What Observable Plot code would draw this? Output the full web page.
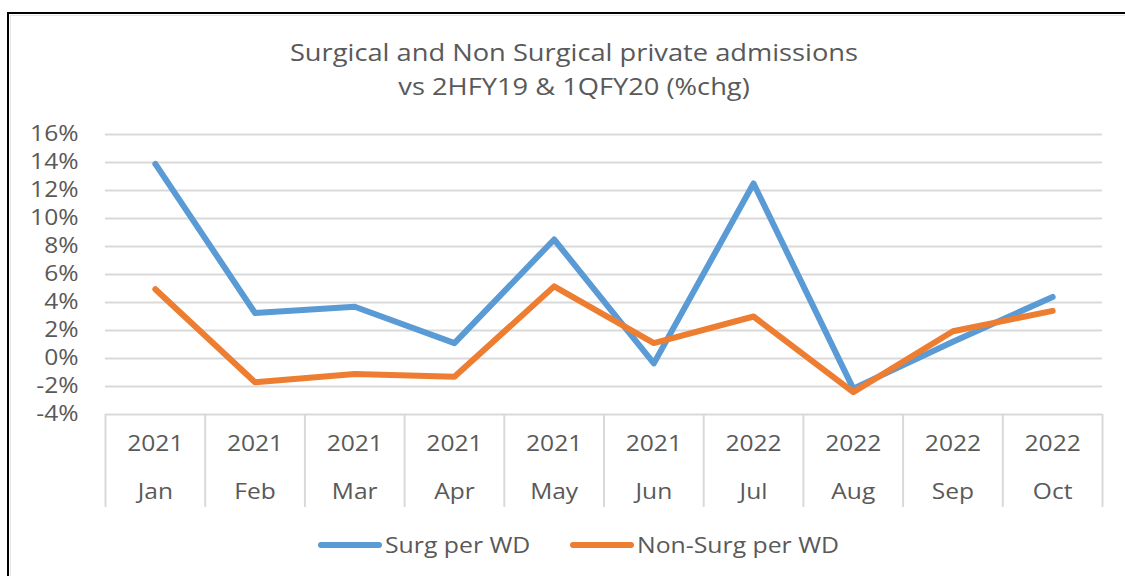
<!DOCTYPE html>
<html>
<head>
<meta charset="utf-8">
<script src="https://cdn.jsdelivr.net/npm/d3@7"></script>
<script src="https://cdn.jsdelivr.net/npm/@observablehq/plot@0.6"></script>
<style>
  html, body { margin: 0; padding: 0; background: #fff; overflow: hidden; }
  #wrap { position: relative; width: 1125px; height: 576px; overflow: hidden; font-family: "Open Sans", sans-serif; }
  #frame { position: absolute; left: 7px; top: 12px; width: 1300px; height: 800px; border-left: 2px solid #000; border-top: 2px solid #000; box-sizing: border-box; }
  #inner { position: absolute; left: 10px; top: 15px; width: 1300px; height: 800px; border-left: 1px solid #e6e6e6; border-top: 1px solid #e6e6e6; box-sizing: border-box; }
  #title { position: absolute; left: 0; top: 35px; width: 1148px; text-align: center; color: #595959; font-size: 23.5px; line-height: 34px; transform: scaleX(1.16); transform-origin: 574px 0; }
  #chart { position: absolute; left: 0; top: 0; }
  #legend { position: absolute; left: 0; top: 530px; width: 1125px; height: 30px; color: #595959; font-size: 21px; }
  .item { position: absolute; top: 0; display: flex; align-items: center; height: 30px; }
  .sw { width: 64px; height: 6px; border-radius: 3px; margin-right: 3px; flex: none; }
  .lab { display: inline-block; transform: scaleX(1.18); transform-origin: 0 50%; white-space: nowrap; }
</style>
</head>
<body>
<div id="wrap">
  <div id="frame"></div>
  <div id="inner"></div>
  <div id="chart"></div>
  <div id="title">Surgical and Non Surgical private admissions<br>vs 2HFY19 &amp; 1QFY20 (%chg)</div>
  <div id="legend"></div>
</div>
<script>
const months = ["Jan", "Feb", "Mar", "Apr", "May", "Jun", "Jul", "Aug", "Sep", "Oct"];
const years = ["2021", "2021", "2021", "2021", "2021", "2021", "2022", "2022", "2022", "2022"];
const surgPerWD = [13.9, 3.25, 3.7, 1.1, 8.5, -0.35, 12.5, -2.15, 1.2, 4.4];
const nonSurgPerWD = [4.95, -1.7, -1.1, -1.3, 5.15, 1.1, 3.0, -2.4, 1.95, 3.4];
const yTicks = [-4, -2, 0, 2, 4, 6, 8, 10, 12, 14, 16];
const seriesNames = ["Surg per WD", "Non-Surg per WD"];
const colors = ["#5B9BD5", "#ED7D31"];

const rows = months.map((m, i) => ({pos: i + 0.5, month: m, year: years[i], surg: surgPerWD[i], nonSurg: nonSurgPerWD[i]}));
const dividers = d3.range(months.length + 1);

const chart = Plot.plot({
  width: 1125,
  height: 576,
  marginLeft: 105,
  marginRight: 23,
  marginTop: 134,
  marginBottom: 162,
  x: {domain: [0, months.length], axis: null},
  y: {domain: [-4, 16], axis: null},
  style: {fontFamily: "Open Sans, sans-serif", background: "transparent"},
  marks: [
    Plot.ruleY(yTicks, {stroke: "#d9d9d9", strokeWidth: 2}),
    Plot.ruleX(dividers, {y1: -4, y2: -10.64, stroke: "#d9d9d9", strokeWidth: 2}),
    Plot.text(yTicks, {y: d => d, text: d => d + "%", frameAnchor: "left", dx: -27, textAnchor: "end", fill: "#595959", fontSize: 21}),
    Plot.text(rows, {x: "pos", text: "year", frameAnchor: "bottom", dy: 36, fill: "#595959", fontSize: 21}),
    Plot.text(rows, {x: "pos", text: "month", frameAnchor: "bottom", dy: 84, fill: "#595959", fontSize: 21}),
    Plot.line(rows, {x: "pos", y: "surg", stroke: colors[0], strokeWidth: 6, strokeLinecap: "round", strokeLinejoin: "round"}),
    Plot.line(rows, {x: "pos", y: "nonSurg", stroke: colors[1], strokeWidth: 6, strokeLinecap: "round", strokeLinejoin: "round"})
  ]
});
// widen the glyphs horizontally to match the reference's stretched lettering
d3.select(chart).selectAll("text").each(function() {
  const t = this.getAttribute("transform") || "";
  this.setAttribute("transform", t + " scale(1.17,1)");
});
document.getElementById("chart").appendChild(chart);

const legend = document.getElementById("legend");
const lefts = [318, 570];
seriesNames.forEach((name, i) => {
  const item = document.createElement("div");
  item.className = "item";
  item.style.left = lefts[i] + "px";
  const sw = document.createElement("span");
  sw.className = "sw";
  sw.style.background = colors[i];
  const label = document.createElement("span");
  label.className = "lab";
  label.textContent = name;
  item.appendChild(sw);
  item.appendChild(label);
  legend.appendChild(item);
});
</script>
</body>
</html>
